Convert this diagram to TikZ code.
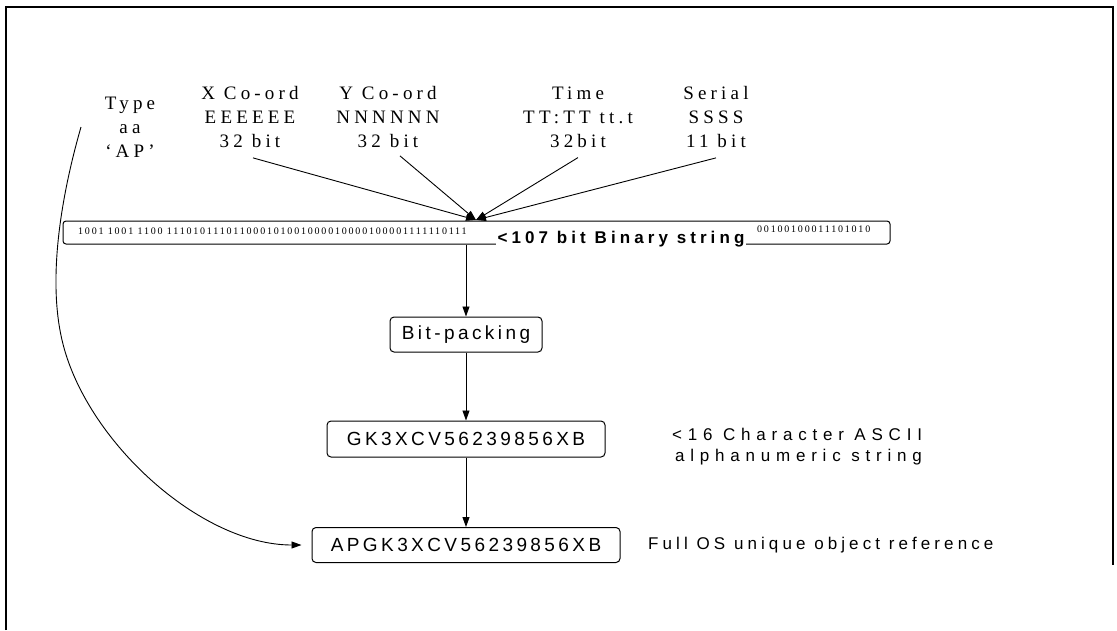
\documentclass[tikz,border=0pt]{standalone}
\usepackage{fontspec}
\setmainfont{Liberation Serif}
\newfontfamily\topf[LetterSpace=22]{Liberation Serif}
\newfontfamily\bitf[LetterSpace=18]{Liberation Serif}
\newfontfamily\boxf[LetterSpace=18]{Liberation Sans}
\newfontfamily\sidef[LetterSpace=24]{Liberation Sans}
\newfontfamily\widef[LetterSpace=34]{Liberation Sans}
\usetikzlibrary{arrows.meta}
\begin{document}
\begin{tikzpicture}[x=1pt,y=-1pt,
  frameline/.style={line width=1.6pt},
  toplbl/.style={align=center, inner sep=0pt, font=\topf\fontsize{19}{24}\selectfont},
  arr/.style={-{Triangle[length=10pt,width=7pt]}, line width=0.9pt},
  stagebox/.style={draw, rounded corners=4pt, line width=1pt, inner sep=0pt, minimum height=35pt, font=\boxf\fontsize{19}{22}\selectfont},
  sidetxt/.style={inner sep=0pt, font=\sidef\fontsize{17}{21}\selectfont}
]
\useasboundingbox (0,0) rectangle (1117,630);
% frame
\draw[frameline] (6,630) -- (6,7) -- (1113,7) -- (1113,565);

% top labels
\node[toplbl] (type) at (130,127) {Type\\aa\\‘AP’};
\node[toplbl] (xc) at (250,117) {X Co-ord\\EEEEEE\\32 bit};
\node[toplbl] (yc) at (388,117) {Y Co-ord\\NNNNNN\\32 bit};
\node[toplbl] (tm) at (578,117) {Time\\TT:TT tt.t\\32bit};
\node[toplbl] (sr) at (716,117) {Serial\\SSSS\\11 bit};

% binary string box
\node[draw, rounded corners=3pt, line width=1pt, minimum width=827pt, minimum height=23pt, inner sep=0pt] (bin) at (476.5,232.5) {};
\node[anchor=west, inner sep=0pt, font=\bitf\fontsize{10}{12}\selectfont] (lbits) at (78,231) {1001 1001 1100 111010111011000101001000010000100001111110111};
\node[anchor=west, inner sep=0pt, font=\bitf\fontsize{10}{12}\selectfont] (rbits) at (757,229) {00100100011101010};
\node[fill=white, inner sep=2pt, font=\sidef\bfseries\fontsize{17}{21}\selectfont] (blbl) at (621,239) {<107 bit Binary string};

\coordinate (hub) at (476,220);
\draw[arr] ([xshift=3pt,yshift=-10pt]xc.south) -- (hub);
\draw[arr] ([xshift=12pt,yshift=-8pt]yc.south) -- (hub);
\draw[arr] ([yshift=-10pt]tm.south) -- (hub);
\draw[arr] ([yshift=-10pt]sr.south) -- (hub);

% stages
\node[stagebox, minimum width=152pt] (bp) at (466,334.5) {Bit-packing};
\node[stagebox, minimum width=278pt, minimum height=36pt] (gk) at (466,439) {GK3XCV56239856XB};
\node[stagebox, minimum width=308pt] (ap) at (466,545) {APGK3XCV56239856XB};

\draw[arr] (bin.south -| bp) -- (bp.north);
\draw[arr] (bp.south) -- (gk.north);
\draw[arr] (gk.south) -- (ap.north);

\node[inner sep=0pt, font=\widef\fontsize{17}{21}\selectfont, align=left, anchor=west] (asc) at (672,447) {<16 Character ASCII\\\hspace*{3pt}alphanumeric string};
\node[sidetxt, anchor=west] (full) at (648,545) {Full OS unique object reference};

% curved connector from type
\coordinate (cs) at (81,127);
\draw[arr] (cs) .. controls (60,200) and (48,280) .. (62,340)
  .. controls (85,440) and (200,545) .. ([xshift=-10pt]ap.west);
\end{tikzpicture}
\end{document}
